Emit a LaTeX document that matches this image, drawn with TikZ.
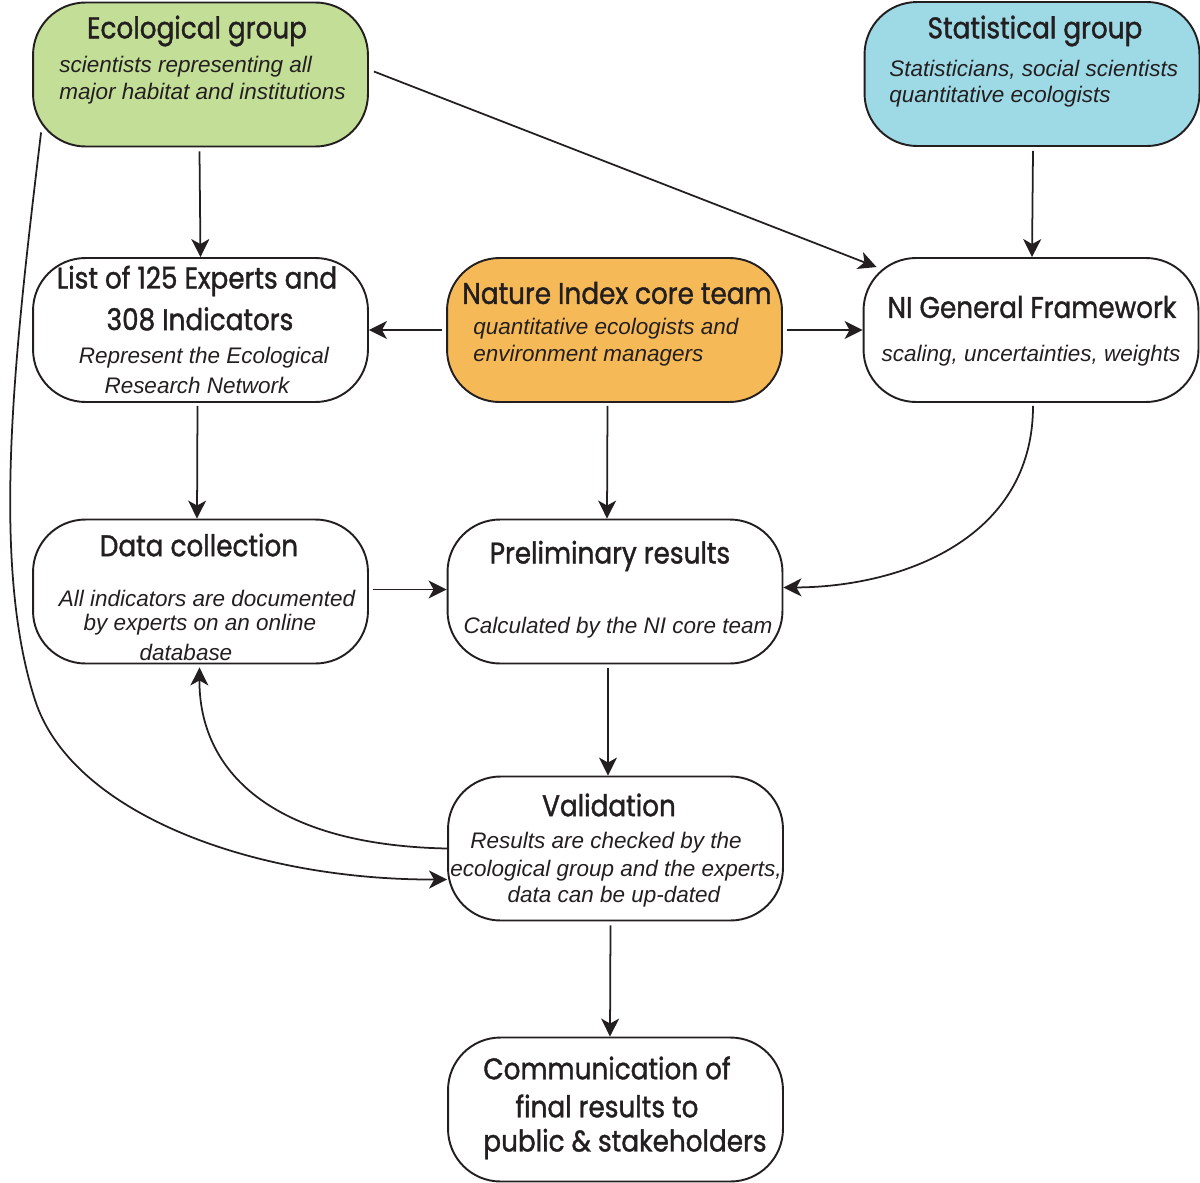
\documentclass[tikz,border=0pt]{standalone}
\usepackage{fontspec}
\setmainfont{Liberation Sans}
\newfontfamily\titlefont[FakeStretch=0.88,FakeBold=1.3]{Poppins}
\usetikzlibrary{arrows.meta,calc}
\definecolor{ecogreen}{HTML}{C3DE97}
\definecolor{statblue}{HTML}{9ED9E6}
\definecolor{coreorange}{HTML}{F5B957}
\definecolor{ink}{HTML}{231F20}
\tikzset{
  box/.style={draw=ink, line width=1.1pt, rounded corners=1.05cm, minimum width=6.7cm, minimum height=2.88cm, inner sep=0pt},
  ttl/.style={font=\titlefont\fontsize{17}{20}\selectfont, text=ink, inner sep=0pt, align=center},
  sub/.style={font=\itshape\fontsize{12.8}{15}\selectfont, text=ink, inner sep=0pt},
  conn/.style={draw=ink, line width=1pt, -{Stealth[length=0.36cm,width=0.36cm,inset=0.1cm]}},
}
\begin{document}
\begin{tikzpicture}[x=0.02cm,y=-0.02cm]
\useasboundingbox (0,0) rectangle (1200,1183);
% boxes
\node[box, fill=ecogreen] (eco) at (200.5,74.5) {};
\node[box, fill=statblue] (stat) at (1032,74) {};
\node[box] (list) at (200.5,330) {};
\node[box, fill=coreorange] (core) at (614.5,330) {};
\node[box] (ni) at (1031,330) {};
\node[box] (data) at (200.5,591.5) {};
\node[box] (prelim) at (615,591.5) {};
\node[box] (valid) at (615.5,848.5) {};
\node[box] (comm) at (615.5,1109.5) {};
% texts
\node[ttl] (ecoT) at (197,31) {Ecological group};
\node[sub, anchor=west] (ecoS1) at (59,67) {scientists representing all};
\node[sub, anchor=west] (ecoS2) at (59,94) {major habitat and institutions};
\node[ttl] (statT) at (1035,31) {Statistical group};
\node[sub, anchor=west] (statS1) at (889,70) {Statisticians, social scientists};
\node[sub, anchor=west] (statS2) at (889,97) {quantitative ecologists};
\node[ttl] (listT1) at (197,281) {List of 125 Experts and};
\node[ttl] (listT2) at (200,319) {308 Indicators};
\node[sub] (listS1) at (204,358) {Represent the Ecological};
\node[sub] (listS2) at (197,385) {Research Network};
\node[ttl] (coreT) at (617,293) {Nature Index core team};
\node[sub, anchor=west] (coreS1) at (473,329) {quantitative ecologists and};
\node[sub, anchor=west] (coreS2) at (473,356) {environment managers};
\node[ttl] (niT) at (1032,307) {NI General Framework};
\node[sub] (niS) at (1031,356) {scaling, uncertainties, weights};
\node[ttl] (dataT) at (199,545) {Data collection};
\node[sub] (dataS1) at (207,598) {All indicators are documented};
\node[sub] (dataS2) at (200,625) {by experts on an online};
\node[sub] (dataS3) at (186,652) {database};
\node[ttl] (prelimT) at (610,556) {Preliminary results};
\node[sub] (prelimS) at (618,628) {Calculated by the NI core team};
\node[ttl] (validT) at (609,805) {Validation};
\node[sub] (validS1) at (606,843) {Results are checked by the};
\node[sub] (validS2) at (616,871) {ecological group and the experts,};
\node[sub] (validS3) at (614,897) {data can be up-dated};
\node[ttl] (commT1) at (607,1068) {Communication of};
\node[ttl] (commT2) at (607,1106) {final results to};
\node[ttl] (commT3) at (625,1144) {public \& stakeholders};
% connectors
\draw[conn] ($(eco.south)+(-1,4)$) -- (list.north);
\draw[conn] ($(eco.east)+(5,-3)$) -- ($(ni.north west)+(14,10)$);
\draw[conn] ($(stat.south)+(1,4)$) -- (ni.north -| stat.south);
\draw[conn] ($(core.west)+(-4,0)$) -- (list.east);
\draw[conn] ($(core.east)+(4,0)$) -- (ni.west);
\draw[conn] ($(core.south)+(-7,3)$) -- (prelim.north -| 607,0);
\draw[conn] ($(list.south)+(-3,3)$) -- (data.north -| 197,0);
\draw[conn] ($(data.east)+(4,-2)$) -- ($(prelim.west)+(0,-2)$);
\draw[conn] ($(ni.south)+(2,3)$) .. controls (1033,540) and (900,587) .. ($(prelim.east)+(0,-4)$);
\draw[conn] ($(prelim.south)+(-7,4)$) -- (valid.north -| 608,0);
\draw[conn] ($(valid.west)+(0,0)$) .. controls (270,845) and (199,770) .. ($(data.south)+(-1,3)$);
\draw[conn] ($(eco.south west)+(9,-15)$) .. controls (15,350) and (-10,560) .. (35,700)
  .. controls (71,812) and (250,880) .. ($(valid.west)+(0,31)$);
\draw[conn] ($(valid.south)+(-5,4)$) -- (comm.north -| 610,0);
\end{tikzpicture}
\end{document}
